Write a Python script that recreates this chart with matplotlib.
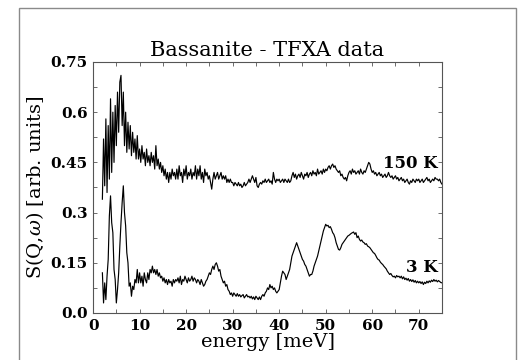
import numpy as np
import matplotlib
matplotlib.use('Agg')
import matplotlib.pyplot as plt
from matplotlib.patches import Rectangle
from matplotlib.ticker import MultipleLocator

# energy grid of the spectra (meV), 0.25 meV steps
energy = np.round(np.arange(2.0, 75.001, 0.25), 2)

# S(Q,w) at 150 K
s_150k = [
    0.34, 0.52, 0.38, 0.58, 0.36, 0.56, 0.40, 0.64, 0.42, 0.60, 0.45, 0.62, 0.50, 0.66, 0.54, 0.69,
    0.71, 0.56, 0.66, 0.50, 0.60, 0.48, 0.57, 0.49, 0.56, 0.47, 0.54, 0.48, 0.52, 0.46, 0.53, 0.46,
    0.49, 0.45, 0.50, 0.46, 0.48, 0.44, 0.49, 0.45, 0.47, 0.44, 0.48, 0.45, 0.47, 0.43, 0.50, 0.44,
    0.46, 0.43, 0.45, 0.42, 0.44, 0.41, 0.43, 0.40, 0.42, 0.39, 0.42, 0.40, 0.43, 0.41, 0.42, 0.40,
    0.43, 0.40, 0.44, 0.41, 0.42, 0.39, 0.43, 0.41, 0.44, 0.40, 0.42, 0.41, 0.43, 0.40, 0.42, 0.41,
    0.44, 0.40, 0.43, 0.41, 0.44, 0.40, 0.42, 0.39, 0.43, 0.41, 0.42, 0.40, 0.41, 0.39, 0.37, 0.40,
    0.42, 0.40, 0.41, 0.42, 0.40, 0.41, 0.42, 0.40, 0.41, 0.40, 0.41, 0.39, 0.40, 0.39, 0.40, 0.39,
    0.39, 0.38, 0.39, 0.385, 0.38, 0.39, 0.38, 0.385, 0.375, 0.38, 0.39, 0.38, 0.385, 0.39, 0.40, 0.39,
    0.40, 0.41, 0.40, 0.39, 0.405, 0.38, 0.375, 0.385, 0.39, 0.385, 0.395, 0.39, 0.40, 0.39, 0.395, 0.40,
    0.39, 0.395, 0.385, 0.42, 0.40, 0.39, 0.40, 0.395, 0.40, 0.39, 0.395, 0.40, 0.39, 0.40, 0.395, 0.39,
    0.40, 0.39, 0.395, 0.41, 0.42, 0.405, 0.415, 0.40, 0.41, 0.415, 0.405, 0.42, 0.41, 0.40, 0.415, 0.41,
    0.42, 0.405, 0.415, 0.42, 0.41, 0.425, 0.415, 0.42, 0.41, 0.43, 0.415, 0.42, 0.425, 0.415, 0.43, 0.42,
    0.43, 0.425, 0.435, 0.44, 0.43, 0.44, 0.445, 0.435, 0.44, 0.43, 0.425, 0.42, 0.425, 0.41, 0.415, 0.405,
    0.40, 0.405, 0.395, 0.41, 0.42, 0.425, 0.415, 0.43, 0.42, 0.425, 0.415, 0.42, 0.425, 0.415, 0.43, 0.42,
    0.415, 0.425, 0.42, 0.43, 0.44, 0.45, 0.445, 0.43, 0.42, 0.425, 0.415, 0.42, 0.41, 0.415, 0.42, 0.41,
    0.415, 0.405, 0.41, 0.415, 0.405, 0.41, 0.42, 0.41, 0.405, 0.41, 0.40, 0.405, 0.41, 0.40, 0.405, 0.395,
    0.40, 0.405, 0.395, 0.40, 0.39, 0.395, 0.40, 0.39, 0.385, 0.395, 0.39, 0.40, 0.395, 0.39, 0.40, 0.395,
    0.40, 0.39, 0.395, 0.40, 0.39, 0.395, 0.40, 0.405, 0.395, 0.40, 0.39, 0.395, 0.40, 0.395, 0.405, 0.40,
    0.40, 0.395, 0.40, 0.39, 0.385,
]

# S(Q,w) at 3 K
s_3k = [
    0.12, 0.03, 0.09, 0.04, 0.11, 0.16, 0.29, 0.35, 0.27, 0.24, 0.13, 0.10, 0.03, 0.07, 0.12, 0.20,
    0.27, 0.33, 0.38, 0.30, 0.26, 0.18, 0.15, 0.08, 0.09, 0.05, 0.08, 0.07, 0.10, 0.09, 0.13, 0.09,
    0.12, 0.09, 0.11, 0.08, 0.12, 0.10, 0.09, 0.12, 0.10, 0.13, 0.12, 0.14, 0.12, 0.13, 0.115, 0.13,
    0.11, 0.12, 0.105, 0.11, 0.095, 0.105, 0.09, 0.10, 0.085, 0.10, 0.09, 0.095, 0.08, 0.10, 0.09, 0.10,
    0.095, 0.105, 0.09, 0.11, 0.085, 0.10, 0.095, 0.11, 0.10, 0.09, 0.105, 0.095, 0.10, 0.11, 0.095, 0.105,
    0.10, 0.09, 0.10, 0.095, 0.085, 0.10, 0.09, 0.08, 0.085, 0.095, 0.10, 0.11, 0.12, 0.115, 0.13, 0.14,
    0.13, 0.145, 0.15, 0.14, 0.125, 0.13, 0.11, 0.10, 0.09, 0.095, 0.08, 0.085, 0.07, 0.065, 0.055, 0.06,
    0.05, 0.06, 0.055, 0.05, 0.058, 0.05, 0.055, 0.048, 0.052, 0.055, 0.045, 0.05, 0.055, 0.048, 0.05, 0.045,
    0.05, 0.042, 0.048, 0.04, 0.05, 0.045, 0.04, 0.048, 0.04, 0.05, 0.055, 0.05, 0.06, 0.065, 0.075, 0.07,
    0.085, 0.075, 0.08, 0.07, 0.075, 0.065, 0.06, 0.065, 0.07, 0.09, 0.11, 0.125, 0.12, 0.115, 0.10, 0.11,
    0.12, 0.13, 0.15, 0.17, 0.18, 0.19, 0.20, 0.21, 0.20, 0.19, 0.18, 0.17, 0.16, 0.155, 0.145, 0.14,
    0.13, 0.12, 0.11, 0.115, 0.115, 0.125, 0.14, 0.15, 0.16, 0.17, 0.185, 0.20, 0.215, 0.23, 0.245, 0.255,
    0.265, 0.26, 0.262, 0.255, 0.258, 0.25, 0.24, 0.235, 0.225, 0.21, 0.20, 0.19, 0.188, 0.195, 0.205, 0.21,
    0.215, 0.22, 0.225, 0.23, 0.232, 0.235, 0.238, 0.24, 0.242, 0.235, 0.24, 0.225, 0.23, 0.22, 0.215, 0.218,
    0.212, 0.21, 0.205, 0.207, 0.20, 0.198, 0.195, 0.19, 0.185, 0.18, 0.178, 0.172, 0.165, 0.16, 0.158, 0.152,
    0.148, 0.145, 0.14, 0.136, 0.132, 0.125, 0.12, 0.115, 0.118, 0.112, 0.108, 0.11, 0.105, 0.112, 0.108, 0.11,
    0.105, 0.11, 0.102, 0.108, 0.10, 0.104, 0.098, 0.103, 0.095, 0.10, 0.094, 0.099, 0.092, 0.097, 0.09, 0.095,
    0.09, 0.094, 0.088, 0.093, 0.085, 0.092, 0.088, 0.095, 0.09, 0.096, 0.092, 0.098, 0.094, 0.10, 0.095, 0.098,
    0.093, 0.097, 0.094, 0.091, 0.09,
]

x_ticks = [0, 10, 20, 30, 40, 50, 60, 70]
y_ticks = [0.0, 0.15, 0.3, 0.45, 0.6, 0.75]
y_tick_labels = ['0.0', '0.15', '0.3', '0.45', '0.6', '0.75']

plt.rcParams['font.family'] = ['DejaVu Serif']
plt.rcParams['mathtext.fontset'] = 'dejavuserif'

fig = plt.figure(figsize=(5.2, 3.6), dpi=100)
ax = fig.add_axes([0.179, 0.1306, 0.671, 0.6972])

# grey frame round the whole figure (bottom edge is cut off)
fig.patches.append(Rectangle((19 / 520, -0.2), 497 / 520, 1.2 - 8 / 360,
                             transform=fig.transFigure, fill=False,
                             edgecolor='#8a8a8a', linewidth=1.0))

ax.plot(energy, s_150k, color='black', linewidth=0.85)
ax.plot(energy, s_3k, color='black', linewidth=0.85)

ax.set_xlim(0, 75)
ax.set_ylim(0, 0.75)
ax.set_xticks(x_ticks)
ax.set_yticks(y_ticks)
ax.set_yticklabels(y_tick_labels)
ax.xaxis.set_minor_locator(MultipleLocator(5))
ax.yaxis.set_minor_locator(MultipleLocator(0.075))
ax.tick_params(which='both', direction='in', top=True, right=True,
               length=3, width=0.6, color='#555555', labelsize=11, pad=4)
for lab in ax.get_xticklabels() + ax.get_yticklabels():
    lab.set_fontweight('bold')
for sp in ax.spines.values():
    sp.set_color('#555555')
    sp.set_linewidth(0.8)

ax.text(74, 0.448, '150 K', ha='right', va='center', fontsize=12, fontweight='bold')
ax.text(74, 0.135, '3 K', ha='right', va='center', fontsize=12, fontweight='bold')

ax.set_title('Bassanite - TFXA data', fontsize=15, pad=4)
ax.set_xlabel('energy [meV]', fontsize=14, labelpad=0)
ax.set_ylabel(r'S(Q,$\omega$) [arb. units]', fontsize=14, labelpad=3)

fig.savefig('out.png', dpi=100)
